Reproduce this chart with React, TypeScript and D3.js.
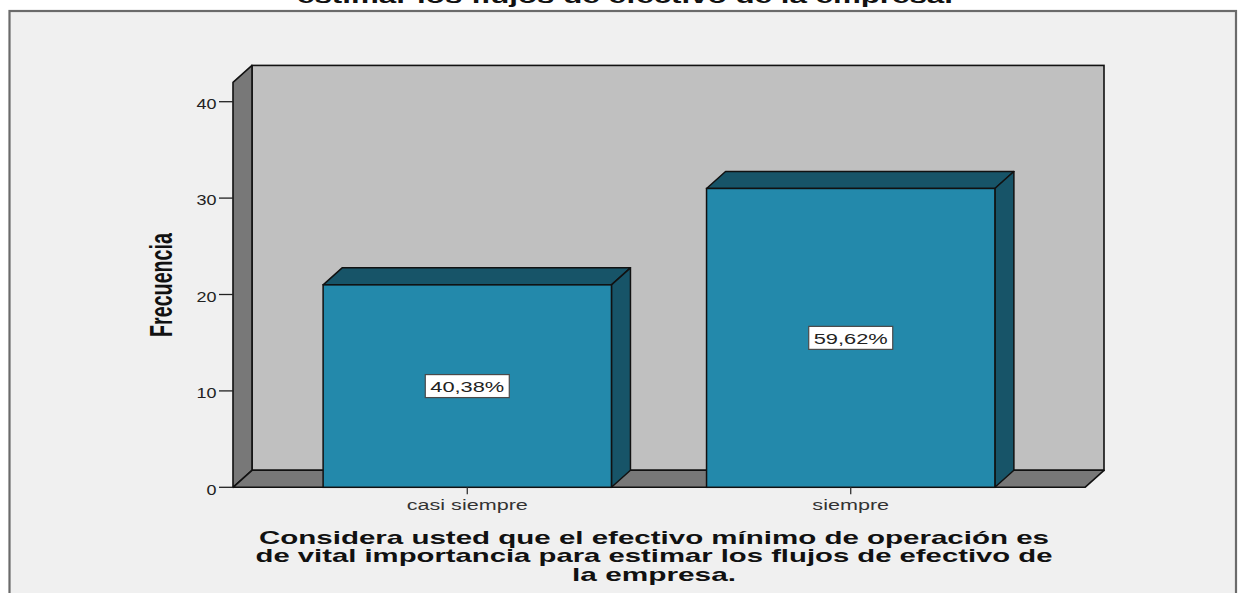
import React from "react";
import * as d3 from "d3";

// Category labels, frequencies and axis ticks
const categories: string[] = ["casi siempre", "siempre"];
const frequencies: number[] = [21, 31];
const yTicks: number[] = [0, 10, 20, 30, 40];
const wallMax = 42;

const titleLines: string[] = ["estimar los flujos de efectivo de la empresa."];
const xTitleLines: string[] = [
  "Considera usted que el efectivo mínimo de operación es",
  "de vital importancia para estimar los flujos de efectivo de",
  "la empresa.",
];
const xTitleWidths: number[] = [790, 797, 164];
const yTitle = "Frecuencia";

const W = 1239;
const H = 593;
const FONT = "'Liberation Sans', Arial, sans-serif";

// 3D depth offset of walls and bars
const DX = 19;
const DY = -17;

const COLORS = {
  page: "#ffffff",
  panel: "#f0f0f0",
  frame: "#6b6b6b",
  backWall: "#c0c0c0",
  sideWall: "#787878",
  barFront: "#2389ab",
  barSide: "#175468",
  edge: "#111111",
};

export default function App() {
  const total = d3.sum(frequencies);
  const pct = (v: number) => d3.format(".2f")((v / total) * 100).replace(".", ",") + "%";

  const y = d3.scaleLinear().domain([0, 40]).range([487.3, 101.7]);
  const x = d3
    .scaleBand<string>()
    .domain(categories)
    .range([233, 1085])
    .paddingInner(0.248)
    .paddingOuter(0.235);

  const x0 = x.range()[0];
  const x1 = x.range()[1];
  const y0 = y(0);
  const yTop = y(wallMax);
  const bw = x.bandwidth();

  const pts = (p: [number, number][]) => p.map((q) => q.join(",")).join(" ");

  return (
    <svg
      width={W}
      height={H}
      viewBox={`0 0 ${W} ${H}`}
      style={{ position: "absolute", left: 0, top: 0, display: "block" }}
    >
      <rect x={0} y={0} width={W} height={H} fill={COLORS.page} />
      {/* chart title, its upper lines lie above the visible area */}
      {titleLines.map((t, i) => (
        <text
          key={i}
          x={625}
          y={2.5}
          textAnchor="middle"
          fontFamily={FONT}
          fontWeight="bold"
          fontSize={21}
          textLength={656}
          lengthAdjust="spacingAndGlyphs"
          fill="#111"
        >
          {t}
        </text>
      ))}
      <rect
        x={9.5}
        y={11}
        width={1226.5}
        height={620}
        fill={COLORS.panel}
        stroke={COLORS.frame}
        strokeWidth={2.2}
      />

      {/* back wall */}
      <rect
        x={x0 + DX}
        y={yTop + DY}
        width={x1 - x0}
        height={y0 - yTop}
        fill={COLORS.backWall}
        stroke={COLORS.edge}
        strokeWidth={1.6}
      />
      {/* left wall */}
      <polygon
        points={pts([
          [x0, y0],
          [x0, yTop],
          [x0 + DX, yTop + DY],
          [x0 + DX, y0 + DY],
        ])}
        fill={COLORS.sideWall}
        stroke={COLORS.edge}
        strokeWidth={1.6}
        strokeLinejoin="round"
      />
      {/* floor */}
      <polygon
        points={pts([
          [x0, y0],
          [x1, y0],
          [x1 + DX, y0 + DY],
          [x0 + DX, y0 + DY],
        ])}
        fill={COLORS.sideWall}
        stroke={COLORS.edge}
        strokeWidth={1.6}
        strokeLinejoin="round"
      />

      {/* y axis ticks */}
      {yTicks.map((t) => (
        <g key={t}>
          <line x1={219} x2={x0} y1={y(t)} y2={y(t)} stroke="#222" strokeWidth={1.3} />
          <text
            x={216.5}
            y={y(t) + 7.3}
            textAnchor="end"
            fontFamily={FONT}
            fontSize={14.5}
            textLength={String(t).length * 10}
            lengthAdjust="spacingAndGlyphs"
            fill="#222"
          >
            {t}
          </text>
        </g>
      ))}

      {/* bars */}
      {categories.map((c, i) => {
        const bx = x(c) as number;
        const by = y(frequencies[i]);
        return (
          <g key={c}>
            <polygon
              points={pts([
                [bx, by],
                [bx + bw, by],
                [bx + bw + DX, by + DY],
                [bx + DX, by + DY],
              ])}
              fill={COLORS.barSide}
              stroke={COLORS.edge}
              strokeWidth={1.5}
              strokeLinejoin="round"
            />
            <polygon
              points={pts([
                [bx + bw, by],
                [bx + bw + DX, by + DY],
                [bx + bw + DX, y0 + DY],
                [bx + bw, y0],
              ])}
              fill={COLORS.barSide}
              stroke={COLORS.edge}
              strokeWidth={1.5}
              strokeLinejoin="round"
            />
            <rect
              x={bx}
              y={by}
              width={bw}
              height={y0 - by}
              fill={COLORS.barFront}
              stroke={COLORS.edge}
              strokeWidth={1.5}
            />
          </g>
        );
      })}

      {/* percentage labels */}
      {categories.map((c, i) => {
        const cx = (x(c) as number) + bw / 2;
        const cy = (y(frequencies[i]) + y0) / 2;
        return (
          <g key={c}>
            <rect
              x={cx - 42}
              y={cy - 11.5}
              width={84}
              height={23}
              fill="#ffffff"
              stroke="#4a4a4a"
              strokeWidth={1.2}
            />
            <text
              x={cx}
              y={cy + 6}
              textAnchor="middle"
              fontFamily={FONT}
              fontSize={15.5}
              textLength={74}
              lengthAdjust="spacingAndGlyphs"
              fill="#222"
            >
              {pct(frequencies[i])}
            </text>
          </g>
        );
      })}

      {/* category ticks and labels */}
      {categories.map((c) => {
        const cx = (x(c) as number) + bw / 2;
        return (
          <g key={c}>
            <line x1={cx} x2={cx} y1={y0} y2={y0 + 7} stroke="#333" strokeWidth={1.3} />
            <text
              transform={`translate(${cx},${509.5}) scale(1.44,1)`}
              textAnchor="middle"
              fontFamily={FONT}
              fontSize={15}
              fill="#333"
            >
              {c}
            </text>
          </g>
        );
      })}

      {/* y axis title */}
      <text
        transform="translate(171.5,285) scale(1.6,1) rotate(-90)"
        textAnchor="middle"
        fontFamily={FONT}
        fontWeight="bold"
        fontSize={20}
        textLength={104}
        lengthAdjust="spacingAndGlyphs"
        fill="#111"
      >
        {yTitle}
      </text>

      {/* x axis title */}
      {xTitleLines.map((t, i) => (
        <text
          key={i}
          x={654}
          y={543.8 + i * 18.4}
          textAnchor="middle"
          fontFamily={FONT}
          fontWeight="bold"
          fontSize={18.5}
          textLength={xTitleWidths[i]}
          lengthAdjust="spacingAndGlyphs"
          fill="#111"
        >
          {t}
        </text>
      ))}
    </svg>
  );
}
